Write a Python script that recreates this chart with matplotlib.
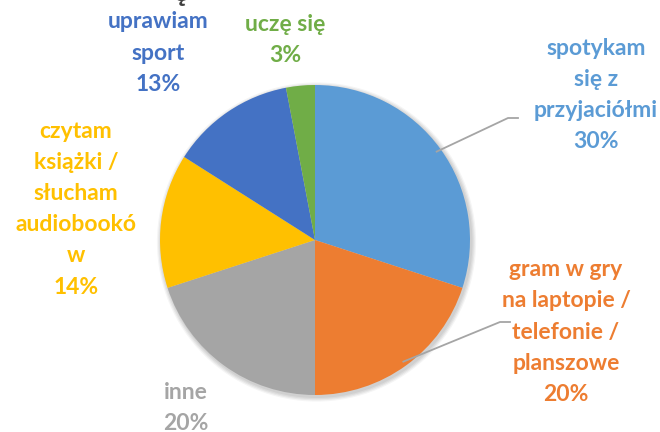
import numpy as np
import matplotlib
matplotlib.use("Agg")
import matplotlib.pyplot as plt

labels = ["spotykam\nsię z\nprzyjaciółmi", "gram w gry\nna laptopie /\ntelefonie /\nplanszowe",
          "inne", "czytam\nksiążki /\nsłucham\naudiobookó\nw", "uprawiam\nsport", "uczę się"]
values = [30, 20, 20, 14, 13, 3]
colors = ["#5B9BD5", "#ED7D31", "#A5A5A5", "#FFC000", "#4472C4", "#70AD47"]

# label centres (pixels from top-left) and whether a leader line is drawn
label_pos = [(596, 95), (566, 332), (186, 408), (76, 209), (158, 53), (285, 40)]
leader = [True, True, False, False, False, False]

W, H = 660, 432
fig = plt.figure(figsize=(6.6, 4.32), dpi=100)
ax = fig.add_axes([0, 0, 1, 1])

cx, cy, r = 315, H - 240, 155

# soft shadow behind the pie
for i, a in enumerate([0.05, 0.05, 0.05, 0.04]):
    ax.add_patch(plt.Circle((cx + 1.5, cy - 2), r + 1 + i * 1.2, color="black",
                            alpha=a, lw=0, zorder=0))

wedges, _ = ax.pie(values, colors=colors, startangle=90, counterclock=False,
                   center=(cx, cy), radius=r, frame=True,
                   wedgeprops=dict(linewidth=0, zorder=2))
ax.set_xlim(0, W)
ax.set_ylim(0, H)
ax.set_aspect("equal")
ax.axis("off")

for w, lab, v, c, (lx, ly), ld in zip(wedges, labels, values, colors, label_pos, leader):
    ax.text(lx, H - ly, f"{lab}\n{v}%", color=c, fontsize=16.5, fontweight="bold",
            family="Lato", ha="center", va="center", linespacing=1.6, zorder=5)
    if ld:
        ang = np.deg2rad((w.theta1 + w.theta2) / 2)
        ex, ey = cx + r * 0.97 * np.cos(ang), cy + r * 0.97 * np.sin(ang)
        if ly < 200:
            kx, ky = 508, H - 118
        else:
            kx, ky = 500, H - 322
        ax.plot([ex, kx, kx + 10], [ey, ky, ky], color="#A5A5A5", lw=1.3, zorder=3)

# fragment of the cropped title above the chart
fig.text(181 / W, 1.0 - 6 / H, "ę", color="#404040", fontsize=22, fontweight="bold",
         family="Lato", ha="center", va="bottom")

fig.savefig("out.png", dpi=100)
